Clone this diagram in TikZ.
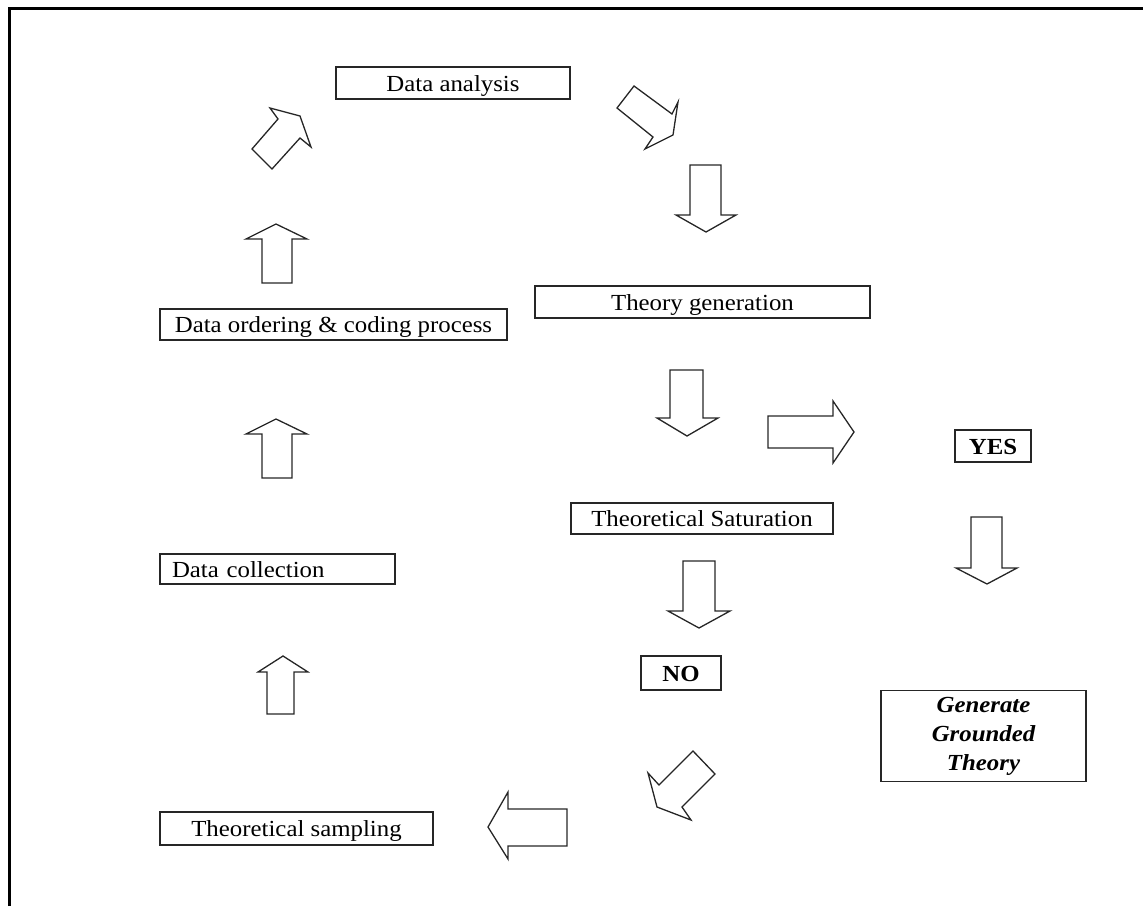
\documentclass[tikz,border=0pt]{standalone}
\usepackage{fontspec}
\setmainfont{Liberation Serif}[FakeStretch=1.08]
\begin{document}
\begin{tikzpicture}[x=1pt,y=-1pt,
  boxbase/.style={draw=black!85, line width=1.5pt, inner sep=0pt,
    font=\fontsize{23}{29}\selectfont},
  box/.style={boxbase, text height=18pt, text depth=2pt},
  blockarrow/.style={draw=black!85, line width=1.3pt, line join=miter}]
\useasboundingbox (0,0) rectangle (1143,906);

% page frame (top and left edges)
\draw[line width=3pt] (9,906) -- (9,8) -- (1143,8);

% process boxes
\node[box, minimum width=234pt, minimum height=32pt] (analysis)   at (453,83)    {Data analysis};
\node[box, minimum width=335pt, minimum height=32pt] (generation) at (702.5,302) {Theory generation};
\node[box, minimum width=347pt, minimum height=31pt] (ordering)   at (333.5,324.5) {Data ordering \& coding process};
\node[box, minimum width=262pt, minimum height=31pt] (saturation) at (702,518.5) {Theoretical Saturation};
\node[box, minimum width=76pt,  minimum height=32pt] (yes)        at (993,446)   {\bfseries YES};
\node[box, minimum width=235pt, minimum height=30pt, text width=211pt, align=left] (collection) at (277.5,569) {Data collection};
\node[box, minimum width=80pt,  minimum height=34pt] (no)         at (681,673)   {\bfseries NO};
\node[boxbase, minimum width=205pt, minimum height=91pt, align=center] (grounded) at (983.5,736)
  {\bfseries\itshape Generate\\ \bfseries\itshape Grounded\\ \bfseries\itshape Theory};
\node[box, minimum width=273pt, minimum height=33pt] (sampling)   at (296.5,828.5) {Theoretical sampling};

% block arrows
% up: sampling -> collection
\draw[blockarrow] (267,714) -- (267,672) -- (258,672) -- (283,656) -- (308,672) -- (294,672) -- (294,714) -- cycle;
% up: collection -> ordering
\draw[blockarrow] (262,478) -- (262,434) -- (246,434) -- (276,419) -- (307,434) -- (292,434) -- (292,478) -- cycle;
% up: ordering -> analysis
\draw[blockarrow] (262,283) -- (262,239) -- (246,239) -- (276,224) -- (307,239) -- (292,239) -- (292,283) -- cycle;
% north-east toward analysis
\draw[blockarrow] (252,149) -- (278,119) -- (270,108) -- (300,116) -- (311,147) -- (300,138) -- (272,169) -- cycle;
% south-east away from analysis
\draw[blockarrow] (634,86) -- (672,114) -- (678,102) -- (673,135) -- (645,149) -- (653,137) -- (617,108) -- cycle;
% down toward generation
\draw[blockarrow] (690,165) -- (721,165) -- (721,215) -- (736,215) -- (706,232) -- (676,215) -- (690,215) -- cycle;
% down: generation -> saturation
\draw[blockarrow] (670,370) -- (703,370) -- (703,418) -- (718,418) -- (687,436) -- (657,418) -- (670,418) -- cycle;
% right toward yes
\draw[blockarrow] (768,416) -- (833,416) -- (833,401) -- (854,432) -- (833,463) -- (833,448) -- (768,448) -- cycle;
% down: saturation -> no
\draw[blockarrow] (683,561) -- (715,561) -- (715,611) -- (730,611) -- (699,628) -- (668,611) -- (683,611) -- cycle;
% down: yes -> grounded theory
\draw[blockarrow] (971,517) -- (1002,517) -- (1002,568) -- (1017,568) -- (987,584) -- (956,568) -- (971,568) -- cycle;
% south-west from no
\draw[blockarrow] (693,751) -- (715,774) -- (682,807) -- (691,820) -- (657,807) -- (648,773) -- (659,785) -- cycle;
% left toward sampling
\draw[blockarrow] (567,809) -- (567,846) -- (508,846) -- (508,859) -- (488,827) -- (508,792) -- (508,809) -- cycle;
\end{tikzpicture}
\end{document}
